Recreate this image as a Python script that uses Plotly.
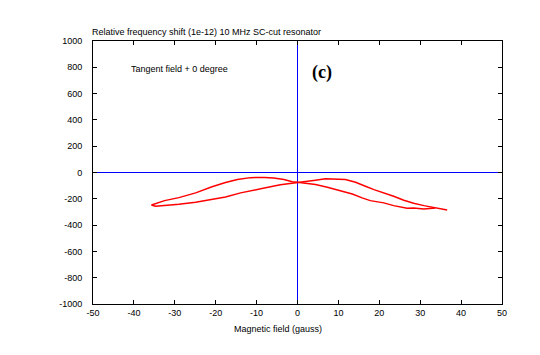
import plotly.graph_objects as go

# Sweep 1 (increasing field)
x_up = [-35.7, -32.5, -29.0, -24.9, -20.9, -17.6, -14.7, -11.5, -8.0, -5.8, -3.3, -1.3, 0.0,
        4.4, 7.3, 9.3, 10.5, 13.4, 15.8, 17.8, 21.1, 23.5, 26.8, 28.4, 30.9, 33.7]
v_up = [-247, -214, -191, -155, -109, -76, -53, -39, -38, -41, -53, -71, -74,
        -92, -112, -130, -140, -163, -193, -214, -231, -252, -272, -270, -277, -270]

# Sweep 2 (decreasing field)
x_down = [36.6, 33.7, 30.9, 28.4, 26.0, 23.5, 20.3, 18.7, 16.6, 14.2, 11.7, 8.5, 6.8, 4.4, 1.1, 0.0,
          -4.2, -9.0, -13.9, -17.6, -20.9, -24.9, -29.0, -32.7, -34.7, -35.7]
v_down = [-285, -270, -252, -234, -211, -181, -150, -130, -104, -74, -53, -47, -48, -59, -71, -74,
          -94, -124, -155, -186, -206, -227, -242, -252, -256, -247]

x_ticks = [-50, -40, -30, -20, -10, 0, 10, 20, 30, 40, 50]
y_ticks = [-1000, -800, -600, -400, -200, 0, 200, 400, 600, 800, 1000]

title_text = "Relative frequency shift (1e-12) 10 MHz SC-cut resonator"
xlabel = "Magnetic field (gauss)"
note_text = "Tangent field + 0 degree"
panel_text = "(c)"

FONT = "Liberation Sans, Arial, sans-serif"

fig = go.Figure()
fig.add_trace(go.Scatter(x=x_up, y=v_up, mode="lines",
                         line=dict(color="#ff0000", width=1.5), showlegend=False))
fig.add_trace(go.Scatter(x=x_down, y=v_down, mode="lines",
                         line=dict(color="#ff0000", width=1.5), showlegend=False))

axis_common = dict(showgrid=False, showline=True, linecolor="black", linewidth=1,
                   mirror="ticks", ticks="inside", ticklen=4, tickcolor="black",
                   zeroline=True, zerolinecolor="#0000ff", zerolinewidth=1,
                   tickfont=dict(family=FONT, size=9, color="black"))

fig.update_layout(
    width=532, height=347,
    margin=dict(l=85, r=38, t=33, b=51),
    paper_bgcolor="white", plot_bgcolor="white",
    xaxis=dict(range=[-50, 50], tickvals=x_ticks, ticktext=[str(t) for t in x_ticks],
               **axis_common),
    yaxis=dict(range=[-1000, 1000], tickvals=y_ticks, ticktext=[str(t) for t in y_ticks],
               ticklabelstandoff=8, **axis_common),
    annotations=[
        dict(text=title_text, xref="paper", yref="paper", x=-0.008, y=1.0, xanchor="left",
             yanchor="bottom", yshift=2, showarrow=False,
             font=dict(family=FONT, size=9, color="black")),
        dict(text=xlabel, xref="x", yref="paper", x=-4.7, y=0, xanchor="center", yanchor="top",
             yshift=-18, showarrow=False, font=dict(family=FONT, size=9, color="black")),
        dict(text=note_text, xref="x", yref="y", x=-41.1, y=786, xanchor="left", yanchor="middle",
             showarrow=False, font=dict(family=FONT, size=9, color="black")),
        dict(text="<b>" + panel_text + "</b>", xref="x", yref="y", x=6.1, y=763, xanchor="center",
             yanchor="middle", showarrow=False,
             font=dict(family="Liberation Serif, Times New Roman, serif", size=18, color="black")),
    ],
)

fig.write_html("out.html")
